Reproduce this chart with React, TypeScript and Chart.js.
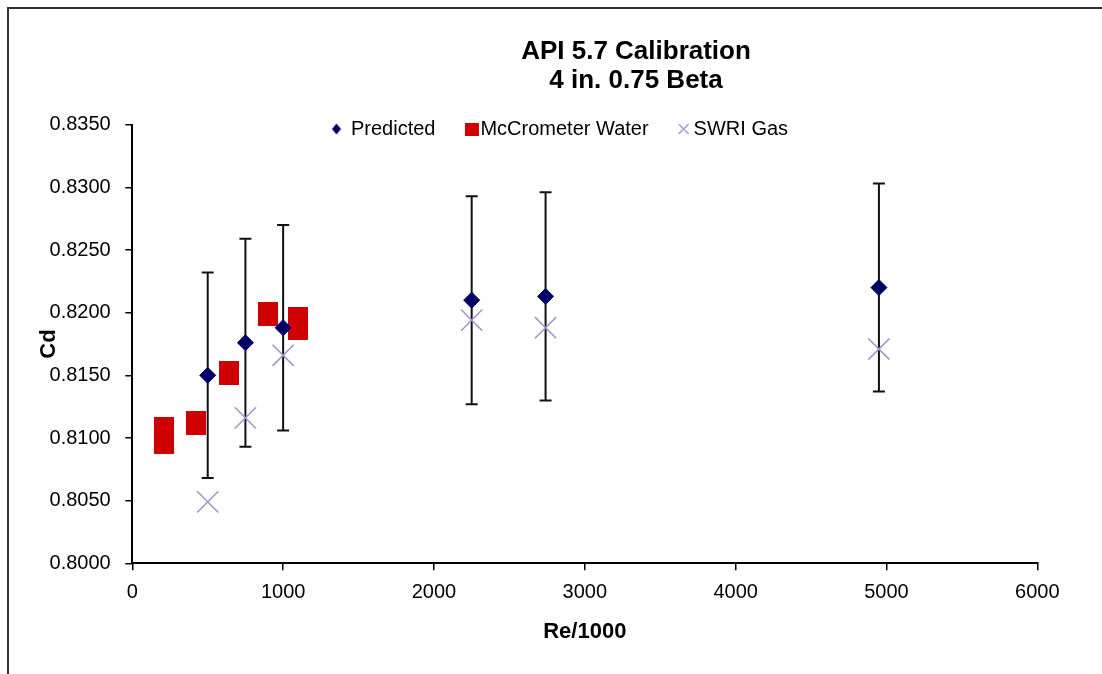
import React, { useEffect, useRef } from 'react';
import { Chart, registerables } from 'chart.js';

Chart.register(...registerables);

// ---- data ----
const titleLines = ['API 5.7 Calibration', '4 in. 0.75 Beta'];
const xTitle = 'Re/1000';
const yTitle = 'Cd';
const seriesNames = ['Predicted', 'McCrometer Water', 'SWRI Gas'];

const predictedX = [500, 750, 1000, 2250, 2740, 4950];
const predictedY = [0.8150, 0.8176, 0.8188, 0.8210, 0.8213, 0.8220];
const predictedErr = [0.0082, 0.0083, 0.0082, 0.0083, 0.0083, 0.0083];

const waterX = [210, 210, 420, 640, 900, 1100, 1100];
const waterY = [0.8107, 0.8097, 0.8112, 0.8152, 0.8199, 0.8195, 0.8188];

const gasX = [500, 750, 1000, 2250, 2740, 4950];
const gasY = [0.8049, 0.8116, 0.8166, 0.8194, 0.8188, 0.8171];

const xMin = 0, xMax = 6000, xStep = 1000;
const yMin = 0.8, yMax = 0.835, yStep = 0.005;

// ---- styles ----
const NAVY = '#000066';
const RED = '#D00000';
const LAVENDER = '#A393CC';
const FONT = "'Liberation Sans', Arial, sans-serif";

function makeCanvas(w: number, h: number, draw: (ctx: CanvasRenderingContext2D) => void) {
  const c = document.createElement('canvas');
  c.width = w;
  c.height = h;
  const ctx = c.getContext('2d') as CanvasRenderingContext2D;
  draw(ctx);
  return c;
}

const toPts = (xs: number[], ys: number[]) => xs.map((x, i) => ({ x, y: ys[i] }));

export default function App() {
  const ref = useRef<HTMLCanvasElement | null>(null);

  useEffect(() => {
    if (!ref.current) return;

    const waterMarker = makeCanvas(20, 24, (ctx) => {
      ctx.fillStyle = RED;
      ctx.fillRect(0, 0, 20, 24);
    });

    const LW = 40;
    const legendDiamond = makeCanvas(LW, 14, (ctx) => {
      const cx = LW / 2 - 4, cy = 7;
      ctx.fillStyle = NAVY;
      ctx.beginPath();
      ctx.moveTo(cx - 4.5, cy);
      ctx.lineTo(cx, cy - 5.5);
      ctx.lineTo(cx + 4.5, cy);
      ctx.lineTo(cx, cy + 5.5);
      ctx.closePath();
      ctx.fill();
    });
    const legendSquare = makeCanvas(LW, 14, (ctx) => {
      const cx = LW / 2 + 2;
      ctx.fillStyle = RED;
      ctx.fillRect(cx - 7, 1, 14, 13);
    });
    const legendCross = makeCanvas(LW, 14, (ctx) => {
      const cx = LW / 2 + 0.5, cy = 7;
      ctx.strokeStyle = LAVENDER;
      ctx.lineWidth = 1.3;
      ctx.beginPath();
      ctx.moveTo(cx - 5, cy - 5);
      ctx.lineTo(cx + 5, cy + 5);
      ctx.moveTo(cx + 5, cy - 5);
      ctx.lineTo(cx - 5, cy + 5);
      ctx.stroke();
    });
    const legendIcons = [legendDiamond, legendSquare, legendCross];

    const errorBars = {
      id: 'errorBars',
      beforeDatasetsDraw(chart: any) {
        const { ctx, scales } = chart;
        const xs = scales.x, ys = scales.y;
        ctx.save();
        ctx.strokeStyle = '#111';
        ctx.lineWidth = 2;
        predictedX.forEach((xv, i) => {
          const px = xs.getPixelForValue(xv);
          const top = ys.getPixelForValue(predictedY[i] + predictedErr[i]);
          const bot = ys.getPixelForValue(predictedY[i] - predictedErr[i]);
          ctx.beginPath();
          ctx.moveTo(px, top);
          ctx.lineTo(px, bot);
          ctx.moveTo(px - 6, top);
          ctx.lineTo(px + 6, top);
          ctx.moveTo(px - 6, bot);
          ctx.lineTo(px + 6, bot);
          ctx.stroke();
        });
        ctx.restore();
      },
    };

    const placeBlocks = {
      id: 'placeBlocks',
      afterLayout(chart: any) {
        const t = chart.titleBlock;
        if (t) {
          const dx = 636 - (t.left + t.right) / 2;
          t.left += dx; t.right += dx;
          const dy = 38 - t.top;
          t.top += dy; t.bottom += dy;
        }
        const l = chart.legend;
        if (l) {
          const dx = 564 - (l.left + l.right) / 2;
          l.left += dx; l.right += dx;
          const dy = 85 - l.top;
          l.top += dy; l.bottom += dy;
        }
      },
    };

    const chart = new Chart(ref.current, {
      type: 'scatter',
      data: {
        datasets: [
          {
            label: seriesNames[0],
            data: toPts(predictedX, predictedY),
            pointStyle: 'rectRot',
            pointRadius: 8,
            pointHoverRadius: 8,
            backgroundColor: NAVY,
            borderColor: NAVY,
            borderWidth: 1,
          },
          {
            label: seriesNames[1],
            data: toPts(waterX, waterY),
            pointStyle: waterMarker as any,
            pointRadius: 10,
            backgroundColor: RED,
            borderColor: RED,
          },
          {
            label: seriesNames[2],
            data: toPts(gasX, gasY),
            pointStyle: 'crossRot',
            pointRadius: 15,
            pointHoverRadius: 15,
            backgroundColor: 'rgba(0,0,0,0)',
            borderColor: LAVENDER,
            borderWidth: 1.5,
          },
        ],
      },
      options: {
        animation: false,
        responsive: false,
        layout: { padding: { left: 20, right: 64.7, top: 3.5, bottom: 0 } },
        plugins: {
          tooltip: { enabled: false },
          title: {
            display: true,
            text: titleLines,
            color: '#000',
            font: { family: FONT, size: 26, weight: 'bold', lineHeight: 1.1 },
            padding: 0,
          },
          legend: {
            display: true,
            position: 'top',
            labels: {
              usePointStyle: true,
              boxWidth: 1,
              padding: 34,
              color: '#000',
              font: { family: FONT, size: 20 },
              generateLabels: (c: any) => {
                const items = (Chart.defaults.plugins.legend.labels as any).generateLabels(c);
                items.forEach((it: any, i: number) => {
                  it.pointStyle = legendIcons[i];
                  it.fontColor = '#000';
                });
                return items;
              },
            },
          },
        },
        scales: {
          x: {
            type: 'linear',
            min: xMin,
            max: xMax,
            afterFit: (s: any) => { s.height = 110.7; },
            ticks: {
              stepSize: xStep,
              color: '#000',
              padding: 10,
              maxRotation: 0,
              font: { family: FONT, size: 20 },
              callback: (v: any) => String(v),
            },
            grid: { drawOnChartArea: false, drawTicks: true, tickLength: 7, color: '#000', lineWidth: 1.5 },
            border: { display: true, color: '#000', width: 2 },
            title: {
              display: true,
              text: xTitle,
              color: '#000',
              font: { family: FONT, size: 22, weight: 'bold' },
              padding: { top: 0, bottom: 28.8 },
            },
          },
          y: {
            type: 'linear',
            min: yMin,
            max: yMax,
            afterFit: (s: any) => { s.width = 112.3; },
            ticks: {
              stepSize: yStep,
              color: '#000',
              padding: 14.6,
              font: { family: FONT, size: 20 },
              callback: (v: any) => Number(v).toFixed(4),
            },
            grid: { drawOnChartArea: false, drawTicks: true, tickLength: 7, color: '#000', lineWidth: 1.5 },
            border: { display: true, color: '#000', width: 2 },
            title: {
              display: true,
              text: yTitle,
              color: '#000',
              font: { family: FONT, size: 22, weight: 'bold' },
              padding: { top: 16, bottom: 0 },
            },
          },
        },
      } as any,
      plugins: [errorBars, placeBlocks],
    });

    return () => chart.destroy();
  }, []);

  return (
    <div style={{ position: 'fixed', left: 0, top: 0, width: 1102, height: 674, overflow: 'hidden', background: '#fff' }}>
      <div
        style={{
          position: 'absolute',
          left: 7,
          top: 7,
          width: 1120,
          height: 700,
          boxSizing: 'border-box',
          borderLeft: '2px solid #333',
          borderTop: '2px solid #333',
        }}
      />
      <canvas ref={ref} width={1102} height={674} style={{ position: 'absolute', left: 0, top: 0 }} />
    </div>
  );
}
